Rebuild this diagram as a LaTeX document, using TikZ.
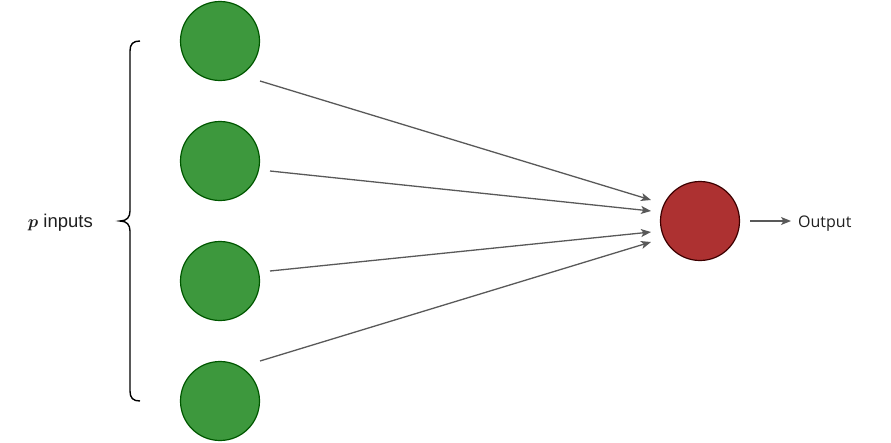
\documentclass[tikz,border=0pt]{standalone}
\usepackage{amsmath}
\usepackage{bm}
\usepackage{fontspec}
\setmainfont{Liberation Sans}
\newfontfamily\outfont{Open Sans}
\usetikzlibrary{arrows.meta}
\definecolor{gfill}{HTML}{3D983D}
\definecolor{gdraw}{HTML}{005700}
\definecolor{rfill}{HTML}{AD3131}
\definecolor{rdraw}{HTML}{3D0000}
\definecolor{arr}{HTML}{595959}
\begin{document}
\begin{tikzpicture}[x=1pt,y=-1pt,
  inp/.style={circle,draw=gdraw,fill=gfill,line width=1.2pt,minimum size=79pt,inner sep=0pt},
  outn/.style={circle,draw=rdraw,fill=rfill,line width=1.2pt,minimum size=79pt,inner sep=0pt},
  conn/.style={draw=arr,line width=1.3pt,-{Stealth[length=10pt,width=8pt,inset=2.5pt]}},
  lbl/.style={inner sep=0pt,text=black!88}]
\useasboundingbox (0,0) rectangle (891,442);
\node[inp] (i1) at (220,41) {};
\node[inp] (i2) at (220,161) {};
\node[inp] (i3) at (220,281) {};
\node[inp] (i4) at (220,401) {};
\node[outn] (o) at (700,221) {};
\coordinate (s1) at (260,81);
\coordinate (s2) at (270,171);
\coordinate (s3) at (270,271);
\coordinate (s4) at (260,361);
\coordinate (e1) at (651,200);
\coordinate (e2) at (651,211);
\coordinate (e3) at (651,232);
\coordinate (e4) at (651,242);
\draw[conn] (s1) -- (e1);
\draw[conn] (s2) -- (e2);
\draw[conn] (s3) -- (e3);
\draw[conn] (s4) -- (e4);
\coordinate (os) at (750,221);
\coordinate (oe) at (791,221);
\node[lbl,anchor=base west,font=\outfont\fontsize{16pt}{19pt}\selectfont] (out) at (798,227) {Output};
\draw[conn] (os) -- (oe);
\node[lbl,anchor=base east,font=\fontsize{18.5pt}{22pt}\selectfont] (pin) at (93,227.5) {$\bm{p}$ inputs};
\draw[line width=1.4pt,black] (140,41) .. controls (133,41) and (130,44) .. (130,51) -- (130,211)
  .. controls (130,217) and (127,221) .. (120,221)
  .. controls (127,221) and (130,225) .. (130,231) -- (130,391)
  .. controls (130,398) and (133,401) .. (140,401);
\end{tikzpicture}
\end{document}
